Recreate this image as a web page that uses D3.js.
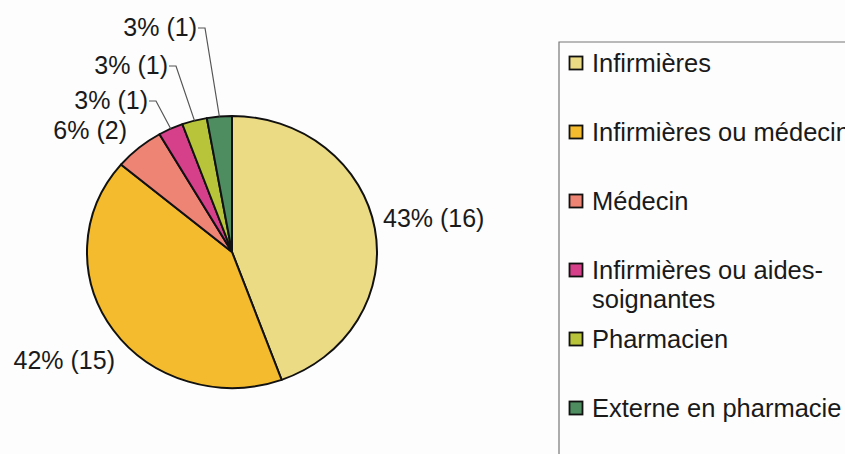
<!DOCTYPE html>
<html>
<head>
<meta charset="utf-8">
<script src="https://cdn.jsdelivr.net/npm/d3@7"></script>
<style>
  body { margin: 0; background: #fdfdfd; }
  svg { display: block; font-family: "Liberation Sans", Arial, sans-serif; }
</style>
</head>
<body>
<div id="chart"></div>
<script>
// categories, counts and printed labels
var categories = ["Infirmières", "Infirmières ou médecin", "Médecin",
  "Infirmières ou aides-soignantes", "Pharmacien", "Externe en pharmacie"];
var counts = [16, 15, 2, 1, 1, 1];
var pctLabels = ["43%", "42%", "6%", "3%", "3%", "3%"];
var colors = ["#ecdb85", "#f3bb2d", "#ee8474", "#d6408a", "#b8c43a", "#4e8d60"];
// legend text split over lines
var legendLines = [["Infirmières"], ["Infirmières ou médecin"], ["Médecin"],
  ["Infirmières ou aides-", "soignantes"], ["Pharmacien"], ["Externe en pharmacie"]];

var width = 845, height = 454;
var cx = 232, cy = 252, rx = 145, ry = 136;

// label placement (text anchor point, vertical centre), leader for small slices
var labelLayout = [
  {x: 383, y: 218, anchor: "start", leader: false},
  {x: 115, y: 360, anchor: "end", leader: false},
  {x: 127, y: 130, anchor: "end", leader: false},
  {x: 148, y: 100, anchor: "end", leader: true},
  {x: 168, y: 65, anchor: "end", leader: true},
  {x: 197, y: 27, anchor: "end", leader: true}
];

var svg = d3.select("#chart").append("svg")
  .attr("width", width)
  .attr("height", height);

var pie = d3.pie().sort(null).value(d => d)
  .startAngle(0).endAngle(2 * Math.PI);
var arcs = pie(counts);

var arc = d3.arc().innerRadius(0).outerRadius(rx);

// pie, slightly squashed vertically like the scan
var pieGroup = svg.append("g")
  .attr("transform", `translate(${cx}, ${cy}) scale(1, ${ry / rx})`);

pieGroup.selectAll("path")
  .data(arcs)
  .enter()
  .append("path")
  .attr("d", arc)
  .attr("fill", (d, i) => colors[i])
  .attr("stroke", "#111")
  .attr("stroke-width", 2)
  .attr("stroke-linejoin", "round");

// point on the ellipse edge at a given angle
function edgePoint(a) {
  return [cx + rx * Math.sin(a), cy - ry * Math.cos(a)];
}

// data labels
var labelGroup = svg.append("g");
arcs.forEach(function(d, i) {
  var lay = labelLayout[i];
  labelGroup.append("text")
    .attr("x", lay.x)
    .attr("y", lay.y)
    .attr("dy", "0.36em")
    .attr("text-anchor", lay.anchor)
    .attr("font-size", 25)
    .attr("fill", "#1a1a1a")
    .text(`${pctLabels[i]} (${counts[i]})`);

  if (lay.leader) {
    var mid = (d.startAngle + d.endAngle) / 2;
    var p = edgePoint(mid);
    labelGroup.append("path")
      .attr("d", `M${lay.x + 1},${lay.y + 1} H${lay.x + 8} L${p[0]},${p[1]}`)
      .attr("fill", "none")
      .attr("stroke", "#555")
      .attr("stroke-width", 1.2);
  }
});

// legend box (runs off the right and bottom edges)
var legendX = 559, legendY = 42;
svg.append("path")
  .attr("d", `M${legendX},${height} V${legendY} H${width}`)
  .attr("fill", "none")
  .attr("stroke", "#777")
  .attr("stroke-width", 1.2);

var legendY0 = 63, legendStep = 69;
var legend = svg.append("g");
categories.forEach(function(c, i) {
  var y = legendY0 + i * legendStep;
  legend.append("rect")
    .attr("x", 569.5)
    .attr("y", y - 6.5)
    .attr("width", 13)
    .attr("height", 13)
    .attr("fill", colors[i])
    .attr("stroke", "#111")
    .attr("stroke-width", 1.8);
  var t = legend.append("text")
    .attr("x", 592)
    .attr("y", y)
    .attr("font-size", 25.5)
    .attr("fill", "#1a1a1a");
  legendLines[i].forEach(function(line, j) {
    t.append("tspan")
      .attr("x", 592)
      .attr("dy", j === 0 ? "0.36em" : 29)
      .text(line);
  });
});
</script>
</body>
</html>
